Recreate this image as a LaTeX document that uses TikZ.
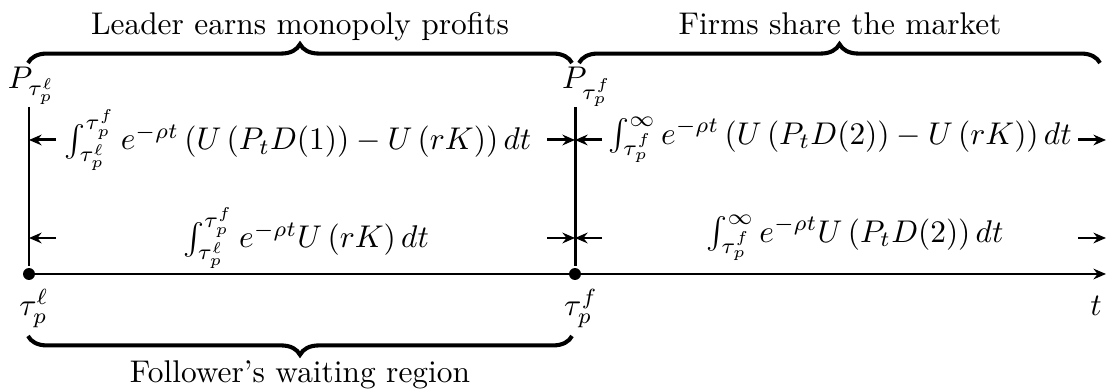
\documentclass[tikz,border=0pt]{standalone}
\usetikzlibrary{arrows.meta,decorations.pathreplacing}
\begin{document}
\begin{tikzpicture}[x=0.3185pt,y=-0.3185pt,
  ln/.style={line width=0.95pt},
  arr/.style={line width=0.95pt,-{Stealth[length=4pt,width=3.4pt]}},
  brc/.style={decorate,decoration={brace,amplitude=6pt},line width=1.3pt},
  lbl/.style={inner sep=0pt,outer sep=0pt},
  dot/.style={circle,fill,inner sep=0pt,minimum size=3.8pt}]
\useasboundingbox (0,0) rectangle (1113,392);
% titles
\node[lbl,anchor=base] (lead) at (300,35) {Leader earns monopoly profits};
\node[lbl,anchor=base] (firms) at (840,35) {Firms share the market};
\node[lbl,anchor=base] (foll) at (300,383) {Follower's waiting region};
% braces
\coordinate (b1l) at (28,63); \coordinate (b1r) at (572,63);
\coordinate (b2l) at (579,63); \coordinate (b2r) at (1100,63);
\coordinate (b3l) at (28,336); \coordinate (b3r) at (572,336);
\draw[brc] (b1l) -- (b1r);
\draw[brc] (b2l) -- (b2r);
\draw[brc] (b3r) -- (b3l);
% price labels
\node[lbl,anchor=base west] (P1) at (8,89) {$P_{\tau_p^\ell}$};
\node[lbl,anchor=base west] (P2) at (562,89) {$P_{\tau_p^f}$};
% axis
\node[dot] (d1) at (29,274) {};
\node[dot] (d2) at (575,274) {};
\coordinate (tend) at (1106,274);
\draw[arr] (d1.center) -- (tend);
\node[lbl,anchor=base] (T1) at (34,316) {$\tau_p^\ell$};
\node[lbl,anchor=base] (T2) at (581,316) {$\tau_p^f$};
\node[lbl,anchor=base] (tt) at (1096,316) {$t$};
% vertical lines
\coordinate (v1t) at (29,107); \coordinate (v1b) at (29,266);
\coordinate (v2t) at (575,107); \coordinate (v2b) at (575,266);
\draw[ln] (v1t) -- (v1b);
\draw[ln] (v2t) -- (v2b);
% row 1
\node[lbl] (i1) at (298,140) {$\int_{\tau_p^\ell}^{\tau_p^f} e^{-\rho t}\left(U\left(P_tD(1)\right)-U\left(rK\right)\right)dt$};
\node[lbl] (i2) at (840,140) {$\int_{\tau_p^f}^{\infty} e^{-\rho t}\left(U\left(P_tD(2)\right)-U\left(rK\right)\right)dt$};
\coordinate (r1a) at (56,140); \coordinate (r1b) at (547,140);
\coordinate (r1c) at (602,140); \coordinate (r1d) at (1078,140);
\coordinate (r1e) at (1106,140);
\draw[arr] (r1a) -- (r1a -| v1t);
\draw[arr] (r1b) -- (r1b -| v2t);
\draw[arr] (r1c) -- (r1c -| v2t);
\draw[arr] (r1d) -- (r1e);
% row 2
\node[lbl] (j1) at (306,238) {$\int_{\tau_p^\ell}^{\tau_p^f} e^{-\rho t}U\left(rK\right)dt$};
\node[lbl] (j2) at (855,238) {$\int_{\tau_p^f}^{\infty} e^{-\rho t}U\left(P_tD(2)\right)dt$};
\coordinate (r2a) at (56,238); \coordinate (r2b) at (547,238);
\coordinate (r2c) at (602,238); \coordinate (r2d) at (1078,238);
\coordinate (r2e) at (1106,238);
\draw[arr] (r2a) -- (r2a -| v1t);
\draw[arr] (r2b) -- (r2b -| v2t);
\draw[arr] (r2c) -- (r2c -| v2t);
\draw[arr] (r2d) -- (r2e);
\end{tikzpicture}
\end{document}
